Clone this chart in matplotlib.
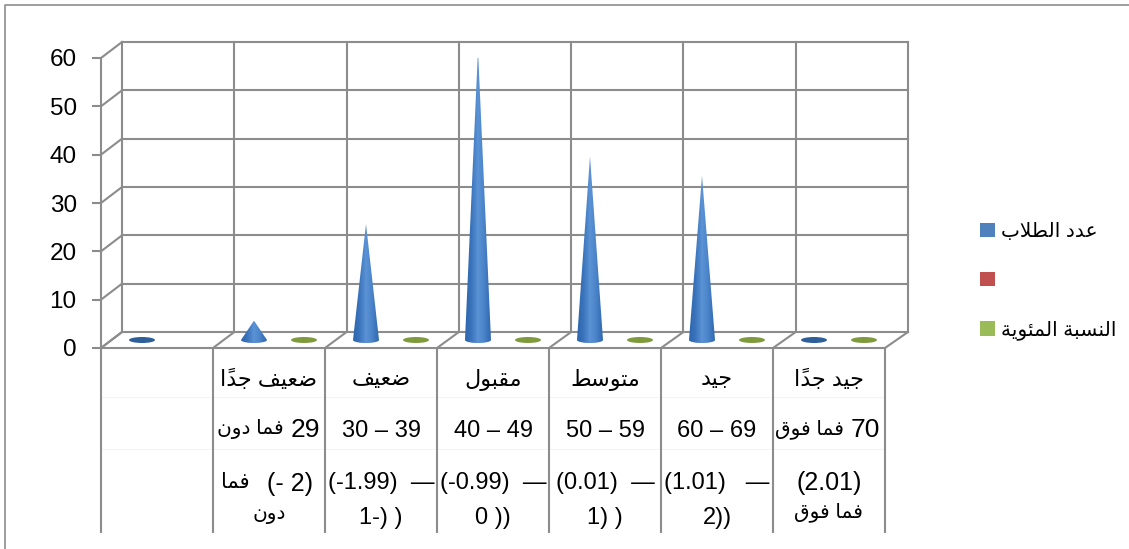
# -*- coding: utf-8 -*-
import numpy as np
import matplotlib
matplotlib.use('Agg')
import matplotlib.pyplot as plt
from matplotlib.colors import LinearSegmentedColormap
from matplotlib.patches import Ellipse, Patch, PathPatch
from matplotlib.path import Path

plt.rcParams['font.family'] = ['Liberation Sans', 'DejaVu Sans']

# --- Data ---
grades = ["", "ضعيف جداً", "ضعيف", "مقبول", "متوسط", "جيد", "جيد جداً"]
students = [0, 4, 24, 60, 38, 34, 0]
percent = [None, 0, 0, 0, 0, 0, 0]
series_names = ["عدد الطلاب", "", "النسبة المئوية"]
y_ticks = [0, 10, 20, 30, 40, 50, 60]
mark_ranges = ["", "29", "30 – 39", "40 – 49", "50 – 59", "60 – 69", "70"]
mark_suffix = ["", "فما دون", "", "", "", "", "فما فوق"]
z_top = ["", "(- 2)", "(-1.99)  —", "(-0.99)  —", "(0.01)  —", "(1.01)   —", "(2.01)"]
z_suffix = ["", "فما", "", "", "", "", ""]
z_bottom = ["", "دون", "1-) )", "0 ))", "1) )", "2))", "فما فوق"]

# --- Arabic shaping: matplotlib has no RTL layout, so use presentation forms ---
# isolated, final, initial, medial
FORMS = {
    'ا': 'ﺍﺎ', 'د': 'ﺩﺪ', 'و': 'ﻭﻮ', 'ة': 'ﺓﺔ',
    'ب': 'ﺏﺐﺑﺒ', 'ت': 'ﺕﺖﺗﺘ', 'ج': 'ﺝﺞﺟﺠ', 'س': 'ﺱﺲﺳﺴ',
    'ض': 'ﺽﺾﺿﻀ', 'ط': 'ﻁﻂﻃﻄ', 'ع': 'ﻉﻊﻋﻌ', 'ف': 'ﻑﻒﻓﻔ',
    'ق': 'ﻕﻖﻗﻘ', 'ل': 'ﻝﻞﻟﻠ', 'م': 'ﻡﻢﻣﻤ', 'ن': 'ﻥﻦﻧﻨ',
    'ي': 'ﻱﻲﻳﻴ', 'ئ': 'ﺉﺊﺋﺌ',
}


def ar(text):
    # returns glyphs in visual (left to right) order
    out = []
    letters = list(text)
    i = 0
    joined = False
    while i < len(letters):
        c = letters[i]
        if c not in FORMS:
            if c == '\u064b':
                out[-1] = out[-1] + c
            else:
                out.append(c)
                joined = False
            i += 1
            continue
        if c == 'ل' and i + 1 < len(letters) and letters[i + 1] == 'ا':
            out.append('ﻼ' if joined else 'ﻻ')
            joined = False
            i += 2
            continue
        forms = FORMS[c]
        nxt = letters[i + 1] if i + 1 < len(letters) else ''
        can_next = len(forms) == 4 and nxt in FORMS
        if joined and can_next:
            out.append(forms[3])
        elif joined:
            out.append(forms[1])
        elif can_next:
            out.append(forms[2])
        else:
            out.append(forms[0])
        joined = can_next
        i += 1
    return ''.join(out[::-1])


# --- Layout in pixels of the 1129x549 figure ---
W, H = 1129, 549
fig = plt.figure(figsize=(W / 100, H / 100), dpi=100)
left, right, floor, top = 101, 885, 348, 58
ax = fig.add_axes([left / W, 1 - floor / H, (right - left) / W, (floor - top) / H])

n = len(grades)
px_x = (right - left) / n       # pixels per category
px_y = (floor - top) / 60.0     # pixels per value unit
dx, dy = 21 / px_x, 16 / px_y   # depth of the 3D box
back = 786 / 784                # back wall is a touch wider

GREY = '#8c8c8c'
LW = 1.5


def row_y(py):
    return -(py - floor) / px_y


def cell_x(i, off):
    return i + off / px_x


# walls and floor
for v in y_ticks:
    ax.plot([dx, n * back + dx], [v + dy, v + dy], color=GREY, lw=LW, clip_on=False, zorder=1)
    ax.plot([0, dx], [v, v + dy], color=GREY, lw=LW, clip_on=False, zorder=1)
for i in range(n + 1):
    ax.plot([i * back + dx, i * back + dx], [dy, 60 + dy], color=GREY, lw=LW, clip_on=False, zorder=1)
    ax.plot([i, i * back + dx], [0, dy], color=GREY, lw=LW, clip_on=False, zorder=1)

# category table under the floor
ax.vlines(range(n + 1), row_y(533), 0, color=GREY, lw=LW, clip_on=False, zorder=1)
for py in (397, 449):
    ax.plot([0, n], [row_y(py)] * 2, color='#f4f4f4', lw=0.8, clip_on=False, zorder=0)

for i in range(n):
    ax.text(i + 0.5, row_y(380), ar(grades[i]), ha='center', va='center', fontsize=16)
    # digits and Arabic differ in size in the source, so they are set apart
    if mark_suffix[i]:
        ax.text(cell_x(i, 107), row_y(430), mark_ranges[i], ha='right', va='center', fontsize=19)
        ax.text(cell_x(i, 71), row_y(429), ar(mark_suffix[i]), ha='right', va='center', fontsize=14.5)
    else:
        ax.text(i + 0.5, row_y(431), mark_ranges[i], ha='center', va='center', fontsize=17)
    if z_suffix[i]:
        ax.text(cell_x(i, 100), row_y(484), z_top[i], ha='right', va='center', fontsize=18)
        ax.text(cell_x(i, 37), row_y(483), ar(z_suffix[i]), ha='right', va='center', fontsize=15)
    elif i == n - 1:
        ax.text(i + 0.5, row_y(483), z_top[i], ha='center', va='center', fontsize=18)
    else:
        ax.text(i + 0.5, row_y(483), z_top[i], ha='center', va='center', fontsize=17)
    if z_bottom[i] and z_bottom[i][0] in FORMS:
        y4 = 515 if i == 1 else 512
        ax.text(i + 0.5, row_y(y4), ar(z_bottom[i]), ha='center', va='center', fontsize=14.5)
    else:
        ax.text(i + 0.5, row_y(518), z_bottom[i], ha='center', va='center', fontsize=17)

# cones
cone_cmap = LinearSegmentedColormap.from_list(
    'cone', ['#2c66ad', '#3b74bc', '#5b93d6', '#4a82c8', '#2f69b0'])
base_w = 26 / px_x
base_h = 6 / px_y
base_up = 8 / px_y
blue_off = 41 / px_x
green_off = 91 / px_x


def draw_cone(x, value):
    # triangle standing on the front half of its base ellipse
    t = np.linspace(0, np.pi, 30)
    xs = np.r_[x, x + base_w / 2 * np.cos(t)]
    ys = np.r_[base_up + value, base_up - base_h / 2 * np.sin(t)]
    verts = np.column_stack([xs, ys])
    clip = PathPatch(Path(np.vstack([verts, verts[0]])), transform=ax.transData,
                     fc='none', ec='none')
    ax.add_patch(clip)
    grad = np.linspace(0, 1, 64).reshape(1, -1)
    im = ax.imshow(grad, cmap=cone_cmap, aspect='auto', zorder=3,
                   extent=[x - base_w / 2, x + base_w / 2, ys.min(), ys.max()])
    im.set_clip_path(clip)


for i, (s, p) in enumerate(zip(students, percent)):
    if s == 0:
        ax.add_patch(Ellipse((i + blue_off, base_up), base_w, base_h, fc='#2f5f98', ec='none', zorder=3))
    else:
        draw_cone(i + blue_off, s)
    if p is not None:
        ax.add_patch(Ellipse((i + green_off, base_up), base_w, base_h, fc='#7f9a3d', ec='none', zorder=3))

ax.set_xlim(0, n)
ax.set_ylim(0, 60)
ax.set_xticks([])
ax.set_yticks(y_ticks)
ax.tick_params(axis='y', labelsize=17.5, length=6.5, width=LW, color=GREY, pad=11)
for name in ('top', 'right'):
    ax.spines[name].set_visible(False)
for name in ('left', 'bottom'):
    ax.spines[name].set_color(GREY)
    ax.spines[name].set_linewidth(LW)
ax.patch.set_alpha(0)

# legend
handles = [Patch(fc='#4f81bd'), Patch(fc='#c0504d'), Patch(fc='#9bbb59')]
fig.legend(handles, [ar(t) for t in series_names], loc='center left',
           bbox_to_anchor=(980 / W, 1 - 281 / H), frameon=False, fontsize=14.5,
           handlelength=0.75, handleheight=0.75, handletextpad=0.3, labelspacing=1.5,
           borderpad=0, borderaxespad=0)

# outer frame of the chart, open at right and bottom
fig.add_artist(plt.Line2D([5 / W, 5 / W, 1], [0, 1 - 5 / H, 1 - 5 / H], color=GREY, lw=1.2))

fig.savefig('out.png', dpi=100)
